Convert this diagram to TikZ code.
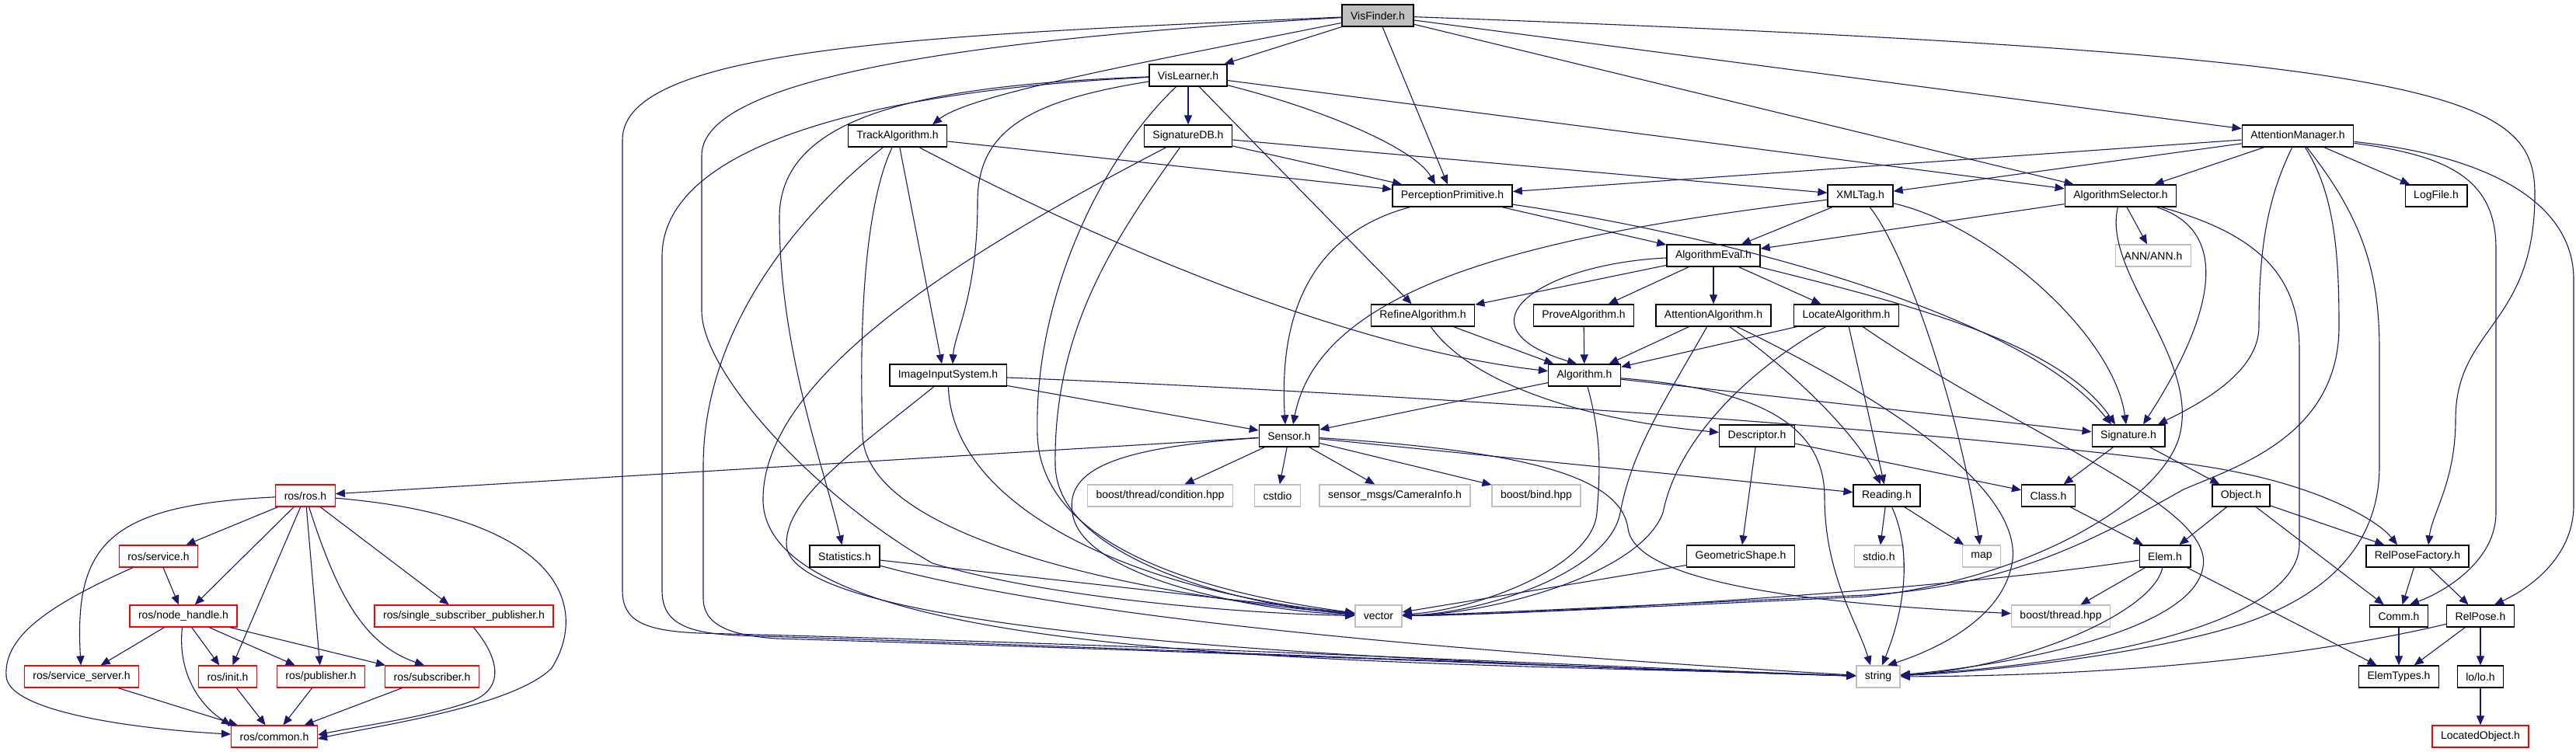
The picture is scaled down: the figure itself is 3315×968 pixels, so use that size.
\documentclass[tikz,border=0pt]{standalone}
\usepackage{fontspec}
\setmainfont{Liberation Sans}
\usetikzlibrary{arrows.meta}
\definecolor{depblue}{HTML}{191970}
\definecolor{sysgray}{HTML}{BFBFBF}

\begin{document}
\begin{tikzpicture}[x=1pt,y=-1pt,
	hdr/.style={draw=black,line width=1.4pt,fill=white,minimum height=28pt,inner xsep=11pt,inner ysep=0pt,font=\fontsize{14}{16}\selectfont},
	sys/.style={hdr,draw=sysgray,line width=1.3pt},
	rosfile/.style={hdr,draw=red,line width=1.3pt},
	dep/.style={draw=depblue,line width=1.1pt,-{Triangle[length=12pt,width=10pt]}}]
	\useasboundingbox (0,0) rectangle (3315,968);

	\node[hdr,fill=sysgray] (vf) at (1773,20) {VisFinder.h};
	\node[hdr] (vl) at (1529,97) {VisLearner.h};
	\node[hdr] (ta) at (1155,175) {TrackAlgorithm.h};
	\node[hdr] (sdb) at (1529,175) {SignatureDB.h};
	\node[hdr] (am) at (2957,175) {AttentionManager.h};
	\node[hdr] (pp) at (1869,252) {PerceptionPrimitive.h};
	\node[hdr] (xml) at (2394,252) {XMLTag.h};
	\node[hdr] (as) at (2729,252) {AlgorithmSelector.h};
	\node[hdr] (lf) at (3135,252) {LogFile.h};
	\node[hdr] (ae) at (2205,329) {AlgorithmEval.h};
	\node[sys] (ann) at (2771,329) {ANN/ANN.h};
	\node[hdr] (ra) at (1831,406) {RefineAlgorithm.h};
	\node[hdr] (pa) at (2038,406) {ProveAlgorithm.h};
	\node[hdr] (aa) at (2205,406) {AttentionAlgorithm.h};
	\node[hdr] (la) at (2376,406) {LocateAlgorithm.h};
	\node[hdr] (iis) at (1220,483) {ImageInputSystem.h};
	\node[hdr] (alg) at (2039,483) {Algorithm.h};
	\node[hdr] (sen) at (1659,561) {Sensor.h};
	\node[hdr] (desc) at (2261,561) {Descriptor.h};
	\node[hdr] (sig) at (2739,561) {Signature.h};
	\node[rosfile] (ros) at (393,638) {ros/ros.h};
	\node[sys] (cond) at (1493,638) {boost/thread/condition.hpp};
	\node[sys] (cio) at (1644,638) {cstdio};
	\node[sys] (cam) at (1795,638) {sensor\_msgs/CameraInfo.h};
	\node[sys] (bind) at (1977,638) {boost/bind.hpp};
	\node[hdr] (read) at (2428,638) {Reading.h};
	\node[hdr] (cls) at (2636,638) {Class.h};
	\node[hdr] (obj) at (2884,638) {Object.h};
	\node[rosfile] (svc) at (204,716) {ros/service.h};
	\node[hdr] (stat) at (1087,716) {Statistics.h};
	\node[hdr] (geo) at (2240,716) {GeometricShape.h};
	\node[sys] (sio) at (2418,716) {stdio.h};
	\node[sys] (map) at (2550,716) {map};
	\node[hdr] (elem) at (2786,716) {Elem.h};
	\node[hdr] (rpf) at (3111,716) {RelPoseFactory.h};
	\node[rosfile] (nh) at (236,793) {ros/node\_handle.h};
	\node[rosfile] (ssp) at (597,793) {ros/single\_subscriber\_publisher.h};
	\node[sys] (vec) at (1774,793) {vector};
	\node[sys] (bth) at (2652,793) {boost/thread.hpp};
	\node[hdr] (comm) at (3087,793) {Comm.h};
	\node[hdr] (rp) at (3192,793) {RelPose.h};
	\node[rosfile] (ss) at (105,871) {ros/service\_server.h};
	\node[rosfile] (init) at (293,871) {ros/init.h};
	\node[rosfile] (pub) at (413,871) {ros/publisher.h};
	\node[rosfile] (sub) at (556,871) {ros/subscriber.h};
	\node[sys] (str) at (2417,871) {string};
	\node[hdr] (et) at (3087,871) {ElemTypes.h};
	\node[hdr] (lo) at (3192,871) {lo/lo.h};
	\node[rosfile] (com) at (353,948) {ros/common.h};
	\node[rosfile] (lobj) at (3192,948) {LocatedObject.h};

	\draw[dep] (vf) -- (vl);
	\draw[dep] (vf) .. controls (1500,75) and (1250,120) .. ([xshift=45pt]ta.north);
	\draw[dep] (vf) -- (pp);
	\draw[dep] (vf) -- (as);
	\draw[dep] (vf) -- (am);
	\draw[dep] (vf) .. controls (3150,70) and (3262,120) .. (3262,250) .. controls (3262,420) and (3160,420) .. (3160,540) .. controls (3160,620) and (3130,660) .. ([xshift=14pt]rpf.north);
	\draw[dep] (vf) .. controls (1200,45) and (801,60) .. (801,180) -- (801,760) .. controls (801,800) and (830,812) .. (900,815) .. controls (1500,830) and (2100,860) .. (str);
	\draw[dep] (vf) .. controls (1250,50) and (903,100) .. (903,200) -- (903,400) .. controls (903,480) and (1050,640) .. (1200,725) .. controls (1350,770) and (1600,790) .. (vec);

	\draw[dep] (vl) -- (sdb);
	\draw[dep] (vl) .. controls (1700,140) and (1820,190) .. ([xshift=-22pt]pp.north);
	\draw[dep] (vl) -- (as);
	\draw[dep] (vl) -- (ra);
	\draw[dep] (vl) .. controls (1320,130) and (1258,170) .. (1258,260) .. controls (1258,380) and (1228,430) .. ([xshift=6pt]iis.north);
	\draw[dep] (vl) .. controls (1180,110) and (1003,150) .. (1003,280) .. controls (1003,450) and (1060,600) .. (stat);
	\draw[dep] (vl) .. controls (1150,115) and (852,180) .. (852,330) -- (852,760) .. controls (852,800) and (880,815) .. (950,818) .. controls (1500,835) and (2100,862) .. (str);
	\draw[dep] (vl) .. controls (1420,200) and (1330,380) .. (1335,560) .. controls (1340,720) and (1600,770) .. (vec);

	\draw[dep] (ta) -- (pp);
	\draw[dep] (ta) -- ([xshift=-8pt]iis.north);
	\draw[dep] (ta) .. controls (1450,330) and (1750,450) .. (alg);
	\draw[dep] (ta) .. controls (1115,260) and (1105,400) .. (1110,560) .. controls (1115,700) and (1500,770) .. (vec);
	\draw[dep] (ta) .. controls (1060,250) and (905,400) .. (905,600) -- (905,770) .. controls (905,805) and (940,818) .. (1000,822) .. controls (1600,840) and (2100,862) .. (str);

	\draw[dep] (sdb) -- (pp);
	\draw[dep] (sdb) -- (xml);
	\draw[dep] (sdb) .. controls (1440,300) and (1355,420) .. (1358,600) .. controls (1362,720) and (1600,780) .. (vec);
	\draw[dep] (sdb) .. controls (1250,320) and (985,480) .. (982,640) .. controls (975,860) and (1800,850) .. (str);

	\draw[dep] (am) -- (pp);
	\draw[dep] (am) -- (xml);
	\draw[dep] (am) -- (as);
	\draw[dep] (am) -- (lf);
	\draw[dep] (am) .. controls (2915,260) and (2907,330) .. (2907,420) .. controls (2907,480) and (2830,520) .. ([xshift=38pt]sig.north);
	\draw[dep] (am) .. controls (3005,250) and (3010,330) .. (3010,420) .. controls (3010,560) and (2880,600) .. (2810,630) .. controls (2720,680) and (2600,755) .. (2400,766) .. controls (2100,780) and (1900,790) .. (vec);
	\draw[dep] (am) .. controls (3040,280) and (3062,350) .. (3062,450) -- (3062,600) .. controls (3062,680) and (3020,760) .. (2880,805) .. controls (2750,845) and (2550,865) .. (str);
	\draw[dep] (am) .. controls (3150,200) and (3212,230) .. (3212,320) -- (3212,660) .. controls (3212,720) and (3150,760) .. ([xshift=14pt]comm.north);
	\draw[dep] (am) .. controls (3200,200) and (3312,260) .. (3312,360) -- (3312,650) .. controls (3312,720) and (3250,760) .. ([xshift=18pt]rp.north);

	\draw[dep] (pp) -- (ae);
	\draw[dep] (pp) .. controls (1690,300) and (1645,400) .. ([xshift=-5pt]sen.north);
	\draw[dep] (pp) .. controls (2200,300) and (2600,400) .. ([xshift=-22pt]sig.north);

	\draw[dep] (xml) -- (ae);
	\draw[dep] (xml) .. controls (2000,300) and (1700,360) .. ([xshift=5pt]sen.north);
	\draw[dep] (xml) .. controls (2450,320) and (2520,520) .. (map);
	\draw[dep] (xml) .. controls (2560,290) and (2720,430) .. ([xshift=-3pt]sig.north);

	\draw[dep] (as) -- (ae);
	\draw[dep] (as) -- (ann);
	\draw[dep] (as) .. controls (2880,300) and (2840,420) .. ([xshift=19pt]sig.north);
	\draw[dep] (as) .. controls (2705,350) and (2830,460) .. (2805,560) .. controls (2785,640) and (2620,745) .. (2400,768) .. controls (2100,782) and (1900,792) .. (vec);
	\draw[dep] (as) .. controls (2900,300) and (2959,350) .. (2959,450) -- (2959,700) .. controls (2959,790) and (2750,850) .. (str);

	\draw[dep] (ae) -- (ra);
	\draw[dep] (ae) -- (pa);
	\draw[dep] (ae) -- (aa);
	\draw[dep] (ae) -- (la);
	\draw[dep] (ae) .. controls (1980,340) and (1870,420) .. ([xshift=-10pt]alg.north);
	\draw[dep] (ae) .. controls (2450,390) and (2650,440) .. ([xshift=-17pt]sig.north);

	\draw[dep] (ra) -- (alg);
	\draw[dep] (ra) .. controls (1890,490) and (2030,540) .. (desc);
	\draw[dep] (pa) -- (alg);

	\draw[dep] (aa) -- (alg);
	\draw[dep] (aa) .. controls (2140,520) and (2100,580) .. (2085,660) .. controls (2070,740) and (1900,790) .. (vec);
	\draw[dep] (aa) .. controls (2310,480) and (2390,560) .. ([xshift=-8pt]read.north);
	\draw[dep] (aa) .. controls (2400,500) and (2600,620) .. (2590,720) .. controls (2580,800) and (2480,840) .. ([xshift=12pt]str.north);

	\draw[dep] (la) -- (alg);
	\draw[dep] (la) .. controls (2260,470) and (2160,560) .. (2140,660) .. controls (2110,740) and (1920,790) .. (vec);
	\draw[dep] (la) -- (read);
	\draw[dep] (la) .. controls (2600,560) and (2850,650) .. (2835,730) .. controls (2820,820) and (2550,860) .. (str);

	\draw[dep] (alg) -- (sen);
	\draw[dep] (alg) -- (sig);
	\draw[dep] (alg) .. controls (2060,560) and (2060,600) .. (2055,660) .. controls (2050,730) and (1900,785) .. (vec);
	\draw[dep] (alg) .. controls (2250,500) and (2348,540) .. (2348,640) .. controls (2348,740) and (2390,800) .. ([xshift=-10pt]str.north);

	\draw[dep] (iis) -- (sen);
	\draw[dep] (iis) .. controls (1900,510) and (2700,570) .. (2880,608) .. controls (2990,630) and (3060,670) .. ([xshift=-26pt]rpf.north);
	\draw[dep] (iis) .. controls (1225,650) and (1450,760) .. (vec);
	\draw[dep] (iis) .. controls (1100,580) and (1012,640) .. (1012,700) .. controls (1012,820) and (1800,852) .. (str);

	\draw[dep] (sen) -- (ros);
	\draw[dep] (sen) -- (cond);
	\draw[dep] (sen) -- (cio);
	\draw[dep] (sen) -- (cam);
	\draw[dep] (sen) -- (bind);
	\draw[dep] (sen) -- (read);
	\draw[dep] (sen) .. controls (1950,580) and (2085,610) .. (2095,680) .. controls (2105,760) and (2400,780) .. (bth);
	\draw[dep] (sen) .. controls (1450,575) and (1370,600) .. (1380,660) .. controls (1390,740) and (1600,785) .. (vec);

	\draw[dep] (desc) -- (cls);
	\draw[dep] (desc) -- (geo);
	\draw[dep] (sig) -- (cls);
	\draw[dep] (sig) -- (obj);
	\draw[dep] (read) -- (sio);
	\draw[dep] (read) -- (map);
	\draw[dep] (read) .. controls (2465,720) and (2445,800) .. ([xshift=5pt]str.north);
	\draw[dep] (cls) -- (elem);
	\draw[dep] (obj) -- (elem);
	\draw[dep] (obj) -- (rpf);
	\draw[dep] (obj) -- (comm);
	\draw[dep] (geo) -- (vec);
	\draw[dep] (stat) -- (vec);
	\draw[dep] (stat) .. controls (1400,800) and (1900,840) .. (str);
	\draw[dep] (elem) -- (bth);
	\draw[dep] (elem) .. controls (2500,760) and (2000,790) .. (vec);
	\draw[dep] (elem) .. controls (2770,790) and (2600,860) .. (str);
	\draw[dep] (elem) -- (et);
	\draw[dep] (rpf) -- (comm);
	\draw[dep] (rpf) -- (rp);
	\draw[dep] (comm) -- (et);
	\draw[dep] (rp) .. controls (2950,850) and (2700,870) .. (str);
	\draw[dep] (rp) -- (et);
	\draw[dep] (rp) -- (lo);
	\draw[dep] (lo) -- (lobj);

	\draw[dep] (ros) -- (svc);
	\draw[dep] (ros) -- (nh);
	\draw[dep] (ros) .. controls (140,650) and (95,700) .. (ss);
	\draw[dep] (ros) -- (init);
	\draw[dep] (ros) -- (pub);
	\draw[dep] (ros) .. controls (435,770) and (470,830) .. ([xshift=-10pt]sub.north);
	\draw[dep] (ros) -- (ssp);
	\draw[dep] (ros) .. controls (720,665) and (760,780) .. (710,860) .. controls (660,910) and (480,935) .. ([yshift=-3pt]com.east);
	\draw[dep] (svc) -- (nh);
	\draw[dep] (svc) .. controls (60,780) and (5,820) .. (8,870) .. controls (10,920) and (200,940) .. (com);
	\draw[dep] (nh) -- (ss);
	\draw[dep] (nh) -- (init);
	\draw[dep] (nh) -- (pub);
	\draw[dep] (nh) -- (sub);
	\draw[dep] (nh) .. controls (228,870) and (260,910) .. (com.north west);
	\draw[dep] (ssp) .. controls (645,850) and (650,890) .. (600,905) .. controls (540,925) and (460,935) .. ([yshift=2pt]com.east);
	\draw[dep] (ss) -- (com);
	\draw[dep] (init) -- (com);
	\draw[dep] (pub) -- (com);
	\draw[dep] (sub) -- (com);
\end{tikzpicture}
\end{document}
